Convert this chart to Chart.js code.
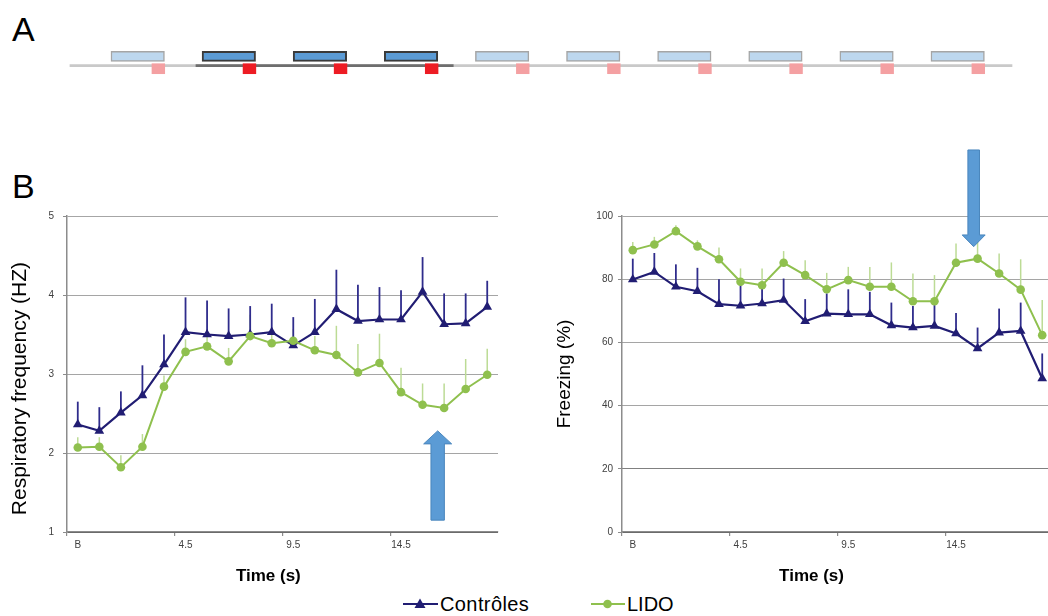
<!DOCTYPE html>
<html>
<head>
<meta charset="utf-8">
<script src="https://cdn.jsdelivr.net/npm/chart.js@4.4.1/dist/chart.umd.min.js"></script>
<style>
html,body{margin:0;padding:0;background:#fff;overflow:hidden;width:1048px;height:616px;}
#wrap{position:relative;width:1048px;height:616px;overflow:hidden;font-family:"Liberation Sans",Arial,sans-serif;}
.panel{position:absolute;font-size:34px;line-height:34px;color:#000;}
canvas{position:absolute;}
.leg{position:absolute;top:592px;height:24px;display:flex;align-items:center;font-size:20px;color:#000;white-space:nowrap;}
.leg svg{display:block;margin-right:2px;}
</style>
</head>
<body>
<div id="wrap">
  <div class="panel" style="left:12px;top:12px;">A</div>
  <div class="panel" style="left:12px;top:169px;">B</div>
  <div style="position:absolute;left:0;top:0;width:1048px;height:100px;"><canvas id="protocol"></canvas></div>
  <div style="position:absolute;left:0;top:130px;width:515px;height:461px;"><canvas id="resp"></canvas></div>
  <div style="position:absolute;left:540px;top:130px;width:530px;height:461px;"><canvas id="freeze"></canvas></div>
  <div class="leg" style="left:403px;letter-spacing:0.4px;">
    <svg width="35" height="14"><line x1="0" y1="7" x2="35" y2="7" stroke="#211d73" stroke-width="2.2"/><polygon points="17,1.5 22.5,11 11.5,11" fill="#211d73"/></svg>Contrôles
  </div>
  <div class="leg" style="left:591px;">
    <svg width="34" height="14"><line x1="0" y1="7" x2="34" y2="7" stroke="#8fc04e" stroke-width="2"/><circle cx="16.5" cy="7" r="4.3" fill="#8fc04e"/></svg>LIDO
  </div>
</div>
<script>
// ---------- DATA ----------
const timeLabels = ['B','0.5','1.5','2.5','3.5','4.5','5.5','6.5','7.5','8.5','9.5','10.5','11.5','12.5','13.5','14.5','15.5','16.5','17.5','18.5'];

const ctrlResp    = [2.36,2.28,2.51,2.73,3.12,3.53,3.50,3.48,3.50,3.53,3.36,3.53,3.82,3.67,3.69,3.69,4.04,3.63,3.64,3.85];
const ctrlRespErr = [0.29,0.30,0.27,0.38,0.38,0.44,0.43,0.35,0.36,0.36,0.36,0.42,0.50,0.46,0.41,0.37,0.44,0.39,0.38,0.33];
const lidoResp    = [2.07,2.08,1.82,2.08,2.84,3.28,3.35,3.16,3.48,3.39,3.42,3.30,3.24,3.02,3.14,2.77,2.61,2.57,2.81,2.99];
const lidoRespErr = [0.13,0.12,0.15,0.16,0.14,0.16,0.14,0.17,0.27,0.14,0.15,0.18,0.37,0.36,0.37,0.31,0.27,0.31,0.38,0.33];

const ctrlFreeze    = [79.9,82.3,77.6,76.2,72.1,71.6,72.3,73.4,66.7,69.1,68.9,68.9,65.4,64.7,65.2,62.8,58.1,63.1,63.6,48.6];
const ctrlFreezeErr = [6.6,6.0,7.1,7.4,7.9,6.7,5.0,6.8,7.0,6.4,7.9,7.1,7.2,6.8,6.6,6.5,6.6,7.6,9.0,7.9];
const lidoFreeze    = [89.2,91.0,95.2,90.4,86.3,79.2,78.1,85.2,81.3,76.8,79.7,77.6,77.6,73.0,73.0,85.2,86.5,81.8,76.7,62.3];
const lidoFreezeErr = [2.6,2.4,1.9,1.9,3.7,4.2,5.3,3.7,4.7,5.2,4.2,6.3,7.7,8.8,8.3,6.1,5.3,6.3,9.6,11.1];

const respTicks = [1,2,3,4,5];
const freezeTicks = [0,20,40,60,80,100];

// protocol (panel A), in trial units
const trials = [0,1,2,3,4,5,6,7,8,9];
const pairedTrials = [1,2,3];
const toneDuration = 0.587;
const shockWindow = [0.45,0.59];
const sessionSpan = [-0.45,9.89];
const pairingSpan = [0.933,3.757];

// arrows (annotations) in data units
const respArrow = {x:16.7, base:1.15, tip:2.28};
const freezeArrow = {x:15.82, base:120.9, tip:90.3};

// ---------- COLORS ----------
const NAVY='#211d73', NAVY_ERR='#2f2c8c', GREEN='#8fc04e', GREEN_ERR='#bcdb95';

// ---------- PLUGINS ----------
const errorBars = {
  id:'errorBars',
  beforeDatasetsDraw(chart){
    const {ctx} = chart; const y = chart.scales.y;
    chart.data.datasets.forEach((ds,di)=>{
      if(!ds.errors) return;
      const meta = chart.getDatasetMeta(di);
      ctx.save(); ctx.strokeStyle = ds.errorColor; ctx.lineWidth = ds.errorWidth;
      meta.data.forEach((pt,i)=>{
        const v = ds.data[i], e = ds.errors[i];
        ctx.beginPath();
        ctx.moveTo(pt.x, y.getPixelForValue(v));
        ctx.lineTo(pt.x, y.getPixelForValue(v+e));
        ctx.stroke();
      });
      ctx.restore();
    });
  }
};
const arrowPlugin = {
  id:'arrowMark',
  afterDatasetsDraw(chart, args, opts){
    if(!opts || !opts.arrow) return;
    const a = opts.arrow, {ctx} = chart, x = chart.scales.x, y = chart.scales.y;
    const cx = x.getPixelForValue(a.x), yb = y.getPixelForValue(a.base), yt = y.getPixelForValue(a.tip);
    const dir = yt < yb ? 1 : -1;
    const hb = yt + dir*opts.headLen;
    ctx.save();
    ctx.beginPath();
    ctx.moveTo(cx-opts.shaft, yb); ctx.lineTo(cx-opts.shaft, hb); ctx.lineTo(cx-opts.head, hb);
    ctx.lineTo(cx, yt); ctx.lineTo(cx+opts.head, hb); ctx.lineTo(cx+opts.shaft, hb); ctx.lineTo(cx+opts.shaft, yb);
    ctx.closePath();
    ctx.fillStyle='#5b9bd5'; ctx.strokeStyle='#4a86bd'; ctx.lineWidth=1;
    ctx.fill(); ctx.stroke();
    ctx.restore();
  }
};

function lineChart(id, cfg){
  const topVal = cfg.ticks[cfg.ticks.length-1], botVal = cfg.ticks[0];
  return new Chart(document.getElementById(id), {
    type:'line',
    data:{
      labels: timeLabels,
      datasets:[
        {label:'LIDO', data:cfg.lido, errors:cfg.lidoErr, errorColor:GREEN_ERR, errorWidth:1.5,
         borderColor:GREEN, backgroundColor:GREEN, borderWidth:2, pointStyle:'circle', pointRadius:4.3,
         pointBorderWidth:0, tension:0},
        {label:'Contrôles', data:cfg.ctrl, errors:cfg.ctrlErr, errorColor:NAVY_ERR, errorWidth:1.8,
         borderColor:NAVY, backgroundColor:NAVY, borderWidth:2.2, pointStyle:'triangle', pointRadius:5.6,
         pointBorderWidth:0, tension:0}
      ]
    },
    options:{
      responsive:true, maintainAspectRatio:false, animation:false,
      layout:{padding:{top:86,right:17,left:0,bottom:0}},
      plugins:{legend:{display:false}, tooltip:{enabled:false}, arrowMark:cfg.arrow},
      scales:{
        x:{
          type:'category', offset:true,
          afterFit(s){ s.height = 59; },
          grid:{offset:true, drawOnChartArea:true, tickLength:4, lineWidth:1.2,
            color: c => (cfg.rightBorder && c.index === timeLabels.length) ? '#a6a6a6' : 'rgba(0,0,0,0)',
            tickColor: c => (c.index % 5 === 0) ? '#8c8c8c' : 'rgba(0,0,0,0)'},
          border:{display:true, color:'#8c8c8c', width:1.5},
          ticks:{autoSkip:false, maxRotation:0, padding:3, color:'#404040', font:{size:10, family:'Liberation Sans'},
            callback(v,i){ return i % 5 === 0 ? this.getLabelForValue(v) : ''; }},
          title:{display:true, text:cfg.xTitle, color:'#000', font:{size:17, weight:'bold', family:'Liberation Sans'}, padding:{top:0,bottom:4}}
        },
        y:{
          min:botVal, max:topVal,
          afterBuildTicks(s){ s.ticks = cfg.ticks.map(v=>({value:v})); },
          afterFit(s){ s.width = cfg.yWidth; },
          grid:{tickLength:4, lineWidth:1,
            color: c => c.tick && c.tick.value === topVal ? '#a6a6a6' : (cfg.darkLine !== undefined && c.tick && c.tick.value === cfg.darkLine ? '#000' : '#4a4a4a'),
            tickColor:'#8c8c8c'},
          border:{display:true, color:'#8c8c8c', width:1.5,
            dash: c => (c.tick && c.tick.value !== topVal && c.tick.value !== botVal) ? [1,1] : []},
          ticks:{padding:cfg.tickPad, color:'#404040', font:{size:10, family:'Liberation Sans'}},
          title:{display:true, text:cfg.yTitle, color:'#000', font:{size:cfg.yTitleSize, family:'Liberation Sans'}, padding:{top:cfg.titlePad,bottom:0}}
        }
      }
    },
    plugins:[errorBars, arrowPlugin]
  });
}

lineChart('resp', {
  ctrl:ctrlResp, ctrlErr:ctrlRespErr, lido:lidoResp, lidoErr:lidoRespErr,
  ticks:respTicks, yWidth:67, tickPad:9, titlePad:8, rightBorder:true,
  yTitle:'Respiratory frequency (HZ)     ', yTitleSize:21,
  xTitle:'Time (s)      ',
  arrow:{arrow:respArrow, shaft:6.7, head:14, headLen:13}
});
lineChart('freeze', {
  ctrl:ctrlFreeze, ctrlErr:ctrlFreezeErr, lido:lidoFreeze, lidoErr:lidoFreezeErr,
  ticks:freezeTicks, yWidth:82, tickPad:5, titlePad:13, rightBorder:false, darkLine:20,
  yTitle:'Freezing (%)', yTitleSize:19,
  xTitle:'Time (s)           ',
  arrow:{arrow:freezeArrow, shaft:5.8, head:11.5, headLen:11.7}
});

// ---------- Panel A protocol ----------
const isPaired = t => pairedTrials.includes(t);
const rowAxis = {type:'linear', min:-3.649, max:6.989, display:false, offset:false, ticks:{stepSize:5}};
new Chart(document.getElementById('protocol'), {
  type:'bar',
  data:{
    datasets:[
      {label:'shock', yAxisID:'yShock', data:trials.map(t=>({x:[t+shockWindow[0],t+shockWindow[1]],y:-0.32})),
       backgroundColor:trials.map(t=>isPaired(t)?'#ed1c24':'#f4a0a2'), borderWidth:0, barThickness:10, maxBarThickness:10},
      {label:'tone', yAxisID:'yTone', data:trials.map(t=>({x:[t,t+toneDuration],y:1})),
       backgroundColor:trials.map(t=>isPaired(t)?'#5b9bd5':'#bdd7ee'),
       borderColor:trials.map(t=>isPaired(t)?'#3a3a3a':'#a5a5a5'),
       borderWidth:trials.map(t=>isPaired(t)?2:1.5), borderSkipped:false, barThickness:10, maxBarThickness:10},
      {label:'session', yAxisID:'yLine', data:[{x:sessionSpan,y:0},{x:pairingSpan,y:0}],
       backgroundColor:['#c9c9c9','#6e6e6e'], borderWidth:0, barThickness:2, maxBarThickness:2}
    ]
  },
  options:{
    indexAxis:'y', responsive:true, maintainAspectRatio:false, animation:false, grouped:false,
    layout:{padding:0},
    plugins:{legend:{display:false}, tooltip:{enabled:false}},
    scales:{
      x:{type:'linear', min:-1.218, max:10.285, display:false},
      yLine:Object.assign({}, rowAxis),
      yTone:Object.assign({}, rowAxis),
      yShock:Object.assign({}, rowAxis)
    }
  }
});
</script>
</body>
</html>
